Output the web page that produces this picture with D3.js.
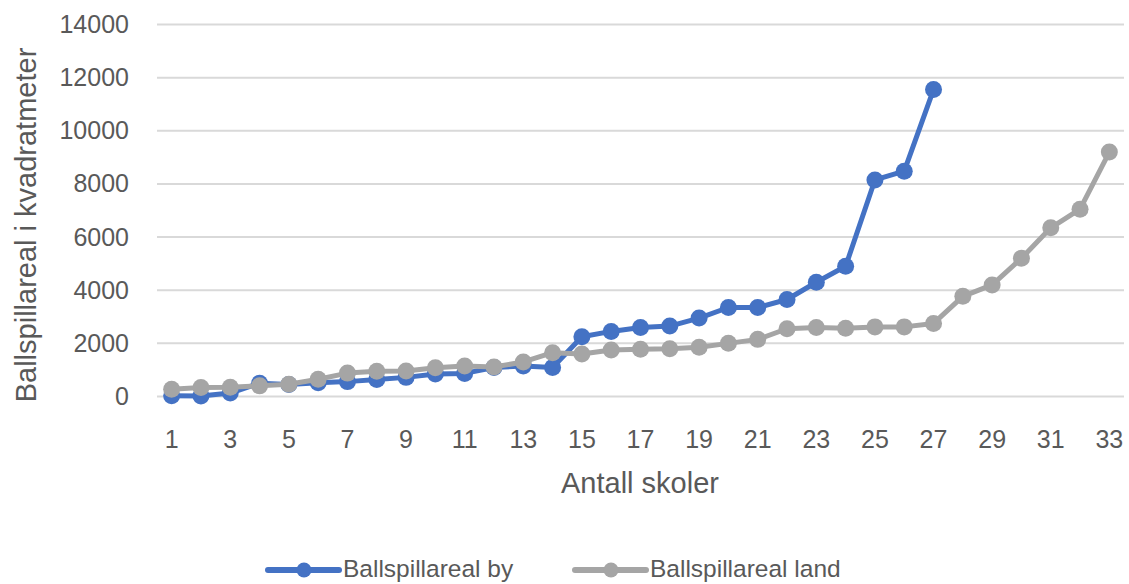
<!DOCTYPE html>
<html>
<head>
<meta charset="utf-8">
<script src="https://cdn.jsdelivr.net/npm/d3@7"></script>
<style>
  body { margin: 0; background: #fff; }
  text { font-family: "Liberation Sans", Arial, sans-serif; fill: #595959; }
</style>
</head>
<body>
<script>
// data
var schools = d3.range(1, 34)
var byValues = [30, 20, 130, 500, 450, 520, 560, 640, 720, 850, 870, 1090, 1150, 1090, 2250, 2450, 2600, 2650, 2950, 3350, 3350, 3650, 4300, 4900, 8150, 8480, 11550]
var landValues = [270, 340, 350, 400, 460, 650, 880, 950, 960, 1080, 1150, 1110, 1300, 1650, 1600, 1750, 1780, 1800, 1850, 2000, 2150, 2550, 2600, 2570, 2620, 2620, 2750, 3770, 4200, 5200, 6350, 7050, 9200]
var yTicks = [0, 2000, 4000, 6000, 8000, 10000, 12000, 14000]
var seriesNames = ["Ballspillareal by", "Ballspillareal land"]
var colors = ["#4472C4", "#A5A5A5"]

var width = 1129, height = 584
var margin = {top: 24, right: 5, bottom: 188, left: 157}

var svg = d3.select("body").append("svg")
    .attr("width", width)
    .attr("height", height)

var x = d3.scaleBand()
    .domain(schools)
    .range([margin.left, width - margin.right])

var y = d3.scaleLinear()
    .domain([0, 14000])
    .range([height - margin.bottom + 0.5, margin.top + 0.5])

// gridlines
svg.append("g")
    .selectAll("line")
    .data(yTicks)
    .enter()
    .append("line")
    .attr("x1", margin.left)
    .attr("x2", width - margin.right)
    .attr("y1", function(d) { return y(d) })
    .attr("y2", function(d) { return y(d) })
    .attr("stroke", "#D9D9D9")
    .attr("stroke-width", 2)

// y axis labels
var yAxis = svg.append("g")
    .attr("transform", "translate(" + (margin.left - 28) + ",0)")
    .call(d3.axisLeft(y).tickValues(yTicks).tickFormat(d3.format("d")).tickSize(0).tickPadding(0))
yAxis.select(".domain").remove()
yAxis.selectAll("text")
    .attr("font-size", 25)
    .attr("font-family", null)
    .attr("fill", "#595959")

// x axis labels (odd numbers only)
var xAxis = svg.append("g")
    .attr("transform", "translate(0," + (y(0) + 34) + ")")
    .call(d3.axisBottom(x).tickValues(schools.filter(function(d) { return d % 2 == 1 })).tickSize(0).tickPadding(0))
xAxis.select(".domain").remove()
xAxis.selectAll("text")
    .attr("font-size", 25)
    .attr("font-family", null)
    .attr("fill", "#595959")

// axis titles
svg.append("text")
    .attr("x", 640)
    .attr("y", 493)
    .attr("text-anchor", "middle")
    .attr("font-size", 29)
    .text("Antall skoler")

svg.append("text")
    .attr("transform", "translate(36," + 225 + ") rotate(-90)")
    .attr("text-anchor", "middle")
    .attr("font-size", 29)
    .text("Ballspillareal i kvadratmeter")

var line = d3.line()
    .x(function(d, i) { return x(schools[i]) + x.bandwidth() / 2 })
    .y(function(d) { return y(d) })

var allSeries = [byValues, landValues]
// land is drawn last, it sits on top in the reference
allSeries.forEach(function(vals, s) {
    var g = svg.append("g")
    g.append("path")
        .datum(vals)
        .attr("d", line)
        .attr("fill", "none")
        .attr("stroke", colors[s])
        .attr("stroke-width", 5)
        .attr("stroke-linejoin", "round")
    g.selectAll("circle")
        .data(vals)
        .enter()
        .append("circle")
        .attr("cx", function(d, i) { return x(schools[i]) + x.bandwidth() / 2 })
        .attr("cy", function(d) { return y(d) })
        .attr("r", 8.5)
        .attr("fill", colors[s])
})

// legend
var legendX = [268, 575]
var legend = svg.append("g")
    .selectAll("g")
    .data(seriesNames)
    .enter()
    .append("g")
    .attr("transform", function(d, i) { return "translate(" + legendX[i] + ",570)" })
legend.append("line")
    .attr("x1", 0).attr("x2", 71)
    .attr("stroke", function(d, i) { return colors[i] })
    .attr("stroke-width", 6)
    .attr("stroke-linecap", "round")
legend.append("circle")
    .attr("cx", 36)
    .attr("r", 7.5)
    .attr("fill", function(d, i) { return colors[i] })
legend.append("text")
    .attr("x", 75)
    .attr("y", 7)
    .attr("font-size", 24.5)
    .text(function(d) { return d })
</script>
</body>
</html>
